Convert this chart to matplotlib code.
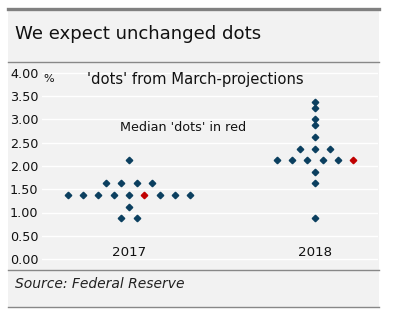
import matplotlib
matplotlib.use("Agg")
import matplotlib.pyplot as plt
from matplotlib.lines import Line2D
from matplotlib.patches import Rectangle
from collections import Counter

# ---- data ----
years = ["2017", "2018"]
dots_2017 = [0.875, 0.875, 1.125,
             1.375, 1.375, 1.375, 1.375, 1.375, 1.375, 1.375, 1.375, 1.375,
             1.625, 1.625, 1.625, 1.625, 2.125]
dots_2018 = [0.875, 1.625, 1.875,
             2.125, 2.125, 2.125, 2.125, 2.125, 2.125,
             2.375, 2.375, 2.375, 2.625, 2.875, 3.0, 3.25, 3.375]
medians = [1.375, 2.125]
median_slot = [5, 5]          # index of the red dot inside the median row
yticks = [0.0, 0.5, 1.0, 1.5, 2.0, 2.5, 3.0, 3.5, 4.0]
ytick_labels = ["0.00", "0.50", "1.00", "1.50", "2.00", "2.50", "3.00", "3.50", "4.00"]

title = "We expect unchanged dots"
subtitle = "'dots' from March-projections"
note = "Median 'dots' in red"
source = "Source: Federal Reserve"

# ---- style ----
W, H = 395, 321
BG = "#f2f2f2"
NAVY = "#0b3f5f"
RED = "#c00000"
LINE = "#888888"
spacing = 0.0823

plt.rcParams['font.family'] = ['DejaVu Sans']
fig = plt.figure(figsize=(W / 100, H / 100), dpi=100)
fig.patch.set_facecolor("white")

def fx(px):
    return px / W

def fy(py):
    return 1 - py / H

# gray panel
fig.patches.append(Rectangle((fx(8), fy(307)), fx(379) - fx(8), fy(8) - fy(307),
                             transform=fig.transFigure, facecolor=BG, edgecolor="none", zorder=-5))
# lines
fig.lines.append(Line2D([fx(8), fx(379)], [fy(8.5), fy(8.5)], transform=fig.transFigure,
                        color="#808080", lw=2.4))
for py in (62, 270, 307):
    fig.lines.append(Line2D([fx(8), fx(379)], [fy(py), fy(py)], transform=fig.transFigure,
                            color=LINE, lw=1.0))

fig.text(fx(15), fy(34), title, fontsize=13.1, color="#111111", va="center", ha="left")
fig.text(fx(15), fy(284.5), source, fontsize=10, style="italic", color="#222222",
         va="center", ha="left")

# axes: ylim -0.1..4.1 maps to px 263.65..68.35
y0p = 259 + 0.1 * 46.5
y1p = 73 - 0.1 * 46.5
x0p, x1p = 42, 378
ax = fig.add_axes([fx(x0p), fy(y0p), fx(x1p) - fx(x0p), (y0p - y1p) / H])
ax.set_facecolor(BG)
ax.patch.set_alpha(0)
ax.set_ylim(-0.1, 4.1)
xl = (x0p - 129) / 186
xr = (x1p - 129) / 186
ax.set_xlim(xl, xr)
for s in ax.spines.values():
    s.set_visible(False)
ax.set_yticks(yticks)
ax.set_yticklabels(ytick_labels)
ax.tick_params(axis="y", length=0, pad=(x0p - 10) * 0.72, labelsize=9.2, labelcolor="#111111")
for lab in ax.get_yticklabels():
    lab.set_horizontalalignment("left")
ax.set_xticks([])
ax.grid(axis="y", color="white", lw=1.0)
ax.set_axisbelow(True)

for i, (vals, med, slot) in enumerate(zip([dots_2017, dots_2018], medians, median_slot)):
    counts = Counter(vals)
    for v, n in sorted(counts.items()):
        for k in range(n):
            x = i + (k - (n - 1) / 2) * spacing
            c = RED if (v == med and k == slot) else NAVY
            ax.plot(x, v, marker="D", ms=3.3, color=c, mec=c, ls="none", zorder=3)
    ax.text(i, 0.13, years[i], ha="center", va="center", fontsize=9.6, color="#111111")

ax.text(xl + 0.005, 3.87, "%", ha="left", va="center", fontsize=8, color="#111111")
ax.text(-0.226, 3.87, subtitle, ha="left", va="center", fontsize=10.6, color="#111111")
ax.text(-0.048, 2.83, note, ha="left", va="center", fontsize=9.2, color="#111111")

fig.savefig("out.png", dpi=100, facecolor=fig.get_facecolor())
